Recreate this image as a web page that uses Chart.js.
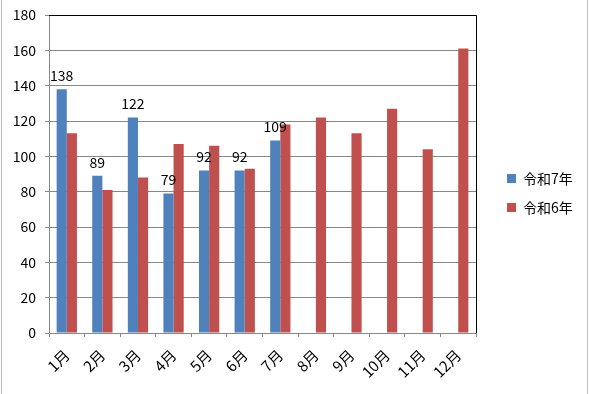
<!DOCTYPE html>
<html>
<head>
<meta charset="utf-8">
<script src="https://cdn.jsdelivr.net/npm/chart.js@4"></script>
<style>
  html, body { margin: 0; padding: 0; background: #fff; }
  #wrap { width: 589px; height: 394px; }
</style>
</head>
<body>
<div id="wrap"><canvas id="monthChart" width="589" height="394"></canvas></div>
<script>
// Categories and values
const months = ['1月', '2月', '3月', '4月', '5月', '6月', '7月', '8月', '9月', '10月', '11月', '12月'];
const reiwa7 = [138, 89, 122, 79, 92, 92, 109, null, null, null, null, null];
const reiwa6 = [113, 81, 88, 107, 106, 93, 118, 122, 113, 127, 104, 161];
const yMin = 0;
const yMax = 180;
const yStep = 20;

const fontFamily = "'Noto Sans CJK JP', 'Noto Sans', sans-serif";
const gridGray = '#878787';

// Value labels above the 令和7年 bars
const valueLabels = {
  id: 'valueLabels',
  afterDatasetsDraw(chart) {
    const ctx = chart.ctx;
    const meta = chart.getDatasetMeta(0);
    ctx.save();
    ctx.font = '14px ' + fontFamily;
    ctx.fillStyle = '#000';
    ctx.textAlign = 'center';
    ctx.textBaseline = 'alphabetic';
    meta.data.forEach((bar, i) => {
      if (reiwa7[i] == null) return;
      ctx.fillText(String(reiwa7[i]), bar.x, bar.y - 8);
    });
    ctx.restore();
  }
};

// Move the legend a bit right and up, like the original sheet
const legendShift = {
  id: 'legendShift',
  afterLayout(chart) {
    const lg = chart.legend;
    lg.left += 16;
    lg.right += 16;
    lg.top -= 4;
    lg.bottom -= 4;
  }
};

// Plot area frame (top/right black) and the outer chart border
const frames = {
  id: 'frames',
  afterDraw(chart) {
    const ctx = chart.ctx;
    const a = chart.chartArea;
    ctx.save();
    ctx.strokeStyle = '#000';
    ctx.lineWidth = 1;
    ctx.beginPath();
    ctx.moveTo(a.left, a.top + 0.5);
    ctx.lineTo(a.right + 0.5, a.top + 0.5);
    ctx.lineTo(a.right + 0.5, a.bottom);
    ctx.stroke();
    ctx.strokeStyle = '#bfbfbf';
    ctx.strokeRect(1.5, -1, chart.width - 3, chart.height + 2);
    ctx.restore();
  }
};

const monthChart = new Chart(document.getElementById('monthChart'), {
  type: 'bar',
  data: {
    labels: months,
    datasets: [
      {
        label: '令和7年',
        data: reiwa7,
        backgroundColor: '#4f81bd',
        categoryPercentage: 0.57,
        barPercentage: 1
      },
      {
        label: '令和6年',
        data: reiwa6,
        backgroundColor: '#c0504d',
        categoryPercentage: 0.57,
        barPercentage: 1
      }
    ]
  },
  options: {
    responsive: false,
    animation: false,
    layout: { padding: { left: 0, top: 0, right: 22.2, bottom: 0 } },
    plugins: {
      legend: {
        position: 'right',
        labels: {
          boxWidth: 9,
          boxHeight: 9,
          padding: 15,
          color: '#000',
          font: { family: fontFamily, size: 14 }
        }
      },
      tooltip: { enabled: false }
    },
    scales: {
      x: {
        offset: true,
        grid: {
          offset: true,
          drawOnChartArea: false,
          color: gridGray,
          tickLength: 4
        },
        border: { color: gridGray },
        ticks: {
          color: '#000',
          maxRotation: 45,
          minRotation: 45,
          padding: 9,
          font: { family: fontFamily, size: 15 }
        },
        afterFit(scale) { scale.height = 61; }
      },
      y: {
        min: yMin,
        max: yMax,
        grid: {
          color: gridGray,
          tickLength: 4
        },
        border: { color: gridGray },
        ticks: {
          stepSize: yStep,
          color: '#000',
          padding: 9,
          font: { family: fontFamily, size: 14 }
        },
        afterFit(scale) {
          scale.width = 49;
          scale.paddingTop = 15;
        }
      }
    }
  },
  plugins: [valueLabels, legendShift, frames]
});
</script>
</body>
</html>
